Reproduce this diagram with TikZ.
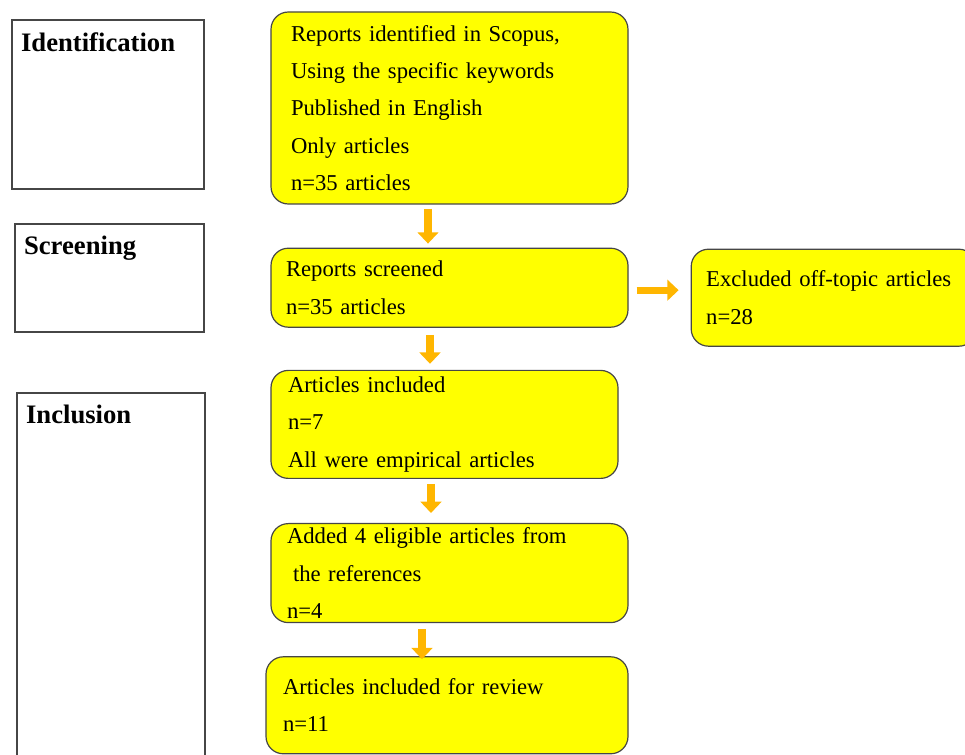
\documentclass[tikz,border=0pt]{standalone}
\usepackage{fontspec}
\setmainfont{Liberation Serif}
\usetikzlibrary{calc,arrows.meta,positioning}
\definecolor{boxyellow}{RGB}{255,255,0}
\definecolor{boxline}{RGB}{70,70,70}
\definecolor{arrowor}{RGB}{255,182,0}

\begin{document}
\begin{tikzpicture}[
	x=0.75pt, y=-0.75pt,
	stage/.style={
		draw=boxline, line width=0.8pt,
		rectangle, inner sep=0pt
	},
	stagename/.style={
		anchor=north west, inner xsep=7pt, inner ysep=9.5pt,
		font=\bfseries\fontsize{20}{24}\selectfont
	},
	flowbox/.style={
		draw=boxline, fill=boxyellow, line width=0.9pt,
		rounded corners=13pt, align=left, inner ysep=0pt,
		font=\fontsize{17}{28}\selectfont
	},
	flow/.style={
		draw=arrowor, line width=5.5pt,
		-{Triangle[width=15.5pt,length=8.5pt]}
	}
	]
	\useasboundingbox (0,0) rectangle (965,755);
	% stages on the left
	\node[stage, minimum width=144pt, minimum height=126.75pt] (ident) at (108,104.5) {};
	\node[stage, minimum width=141.75pt, minimum height=81pt] (screen) at (109.5,278) {};
	\node[stage, minimum width=141pt, minimum height=286.5pt] (incl) at (111,584) {};
	\node[stagename] (identname) at (ident.north west) {Identification};
	\node[stagename] (screenname) at (screen.north west) {Screening};
	\node[stagename] (inclname) at (incl.north west) {Inclusion};
	% flow boxes
	\node[flowbox, text width=237.75pt, inner xsep=15pt, minimum height=144pt] (rep) at (449.5,108)
		{Reports identified in Scopus,\\Using the specific keywords\\Published in English\\Only articles\\n=35 articles};
	\node[flowbox, text width=245.25pt, inner xsep=11.25pt, minimum height=59.25pt,
		below=32.25pt of rep] (scr) {Reports screened\\n=35 articles};
	\node[flowbox, text width=191.25pt, inner xsep=11.25pt, minimum height=72.75pt,
		right=46.5pt of scr, yshift=-7.5pt] (excl) {Excluded off-topic articles\\n=28};
	\node[flowbox, text width=234.75pt, inner xsep=12.75pt, minimum height=81pt,
		below=31.5pt of scr, xshift=-3.75pt] (incl7) {Articles included\\n=7\\All were empirical articles};
	\node[flowbox, text width=243.75pt, inner xsep=12pt, minimum height=74.25pt,
		below=33pt of incl7, xshift=3.75pt] (added) {Added 4 eligible articles from\\\hspace*{4.5pt}the references\\n=4};
	\node[flowbox, text width=246pt, inner xsep=12.75pt, minimum height=72.75pt,
		below=24.75pt of added, xshift=-1.875pt] (review) {Articles included for review\\n=11};
	% arrows
	\foreach \a/\b/\da/\db/\s/\t in {rep/scr/-21.5/-21.5/4/4, scr/incl7/-19.5/-14.5/7/6,
		incl7/added/-13.5/-18.5/5/10, added/review/-27.5/-25/6/-3}
	{
		\draw[flow] ($(\a.south)+(\da,\s)$) -- ($(\b.north)+(\db,-\t)$);
	}
	\draw[flow] ($(scr.east)+(8,2.5)$) -- ($(excl.west)+(-12,-7.5)$);
\end{tikzpicture}
\end{document}
